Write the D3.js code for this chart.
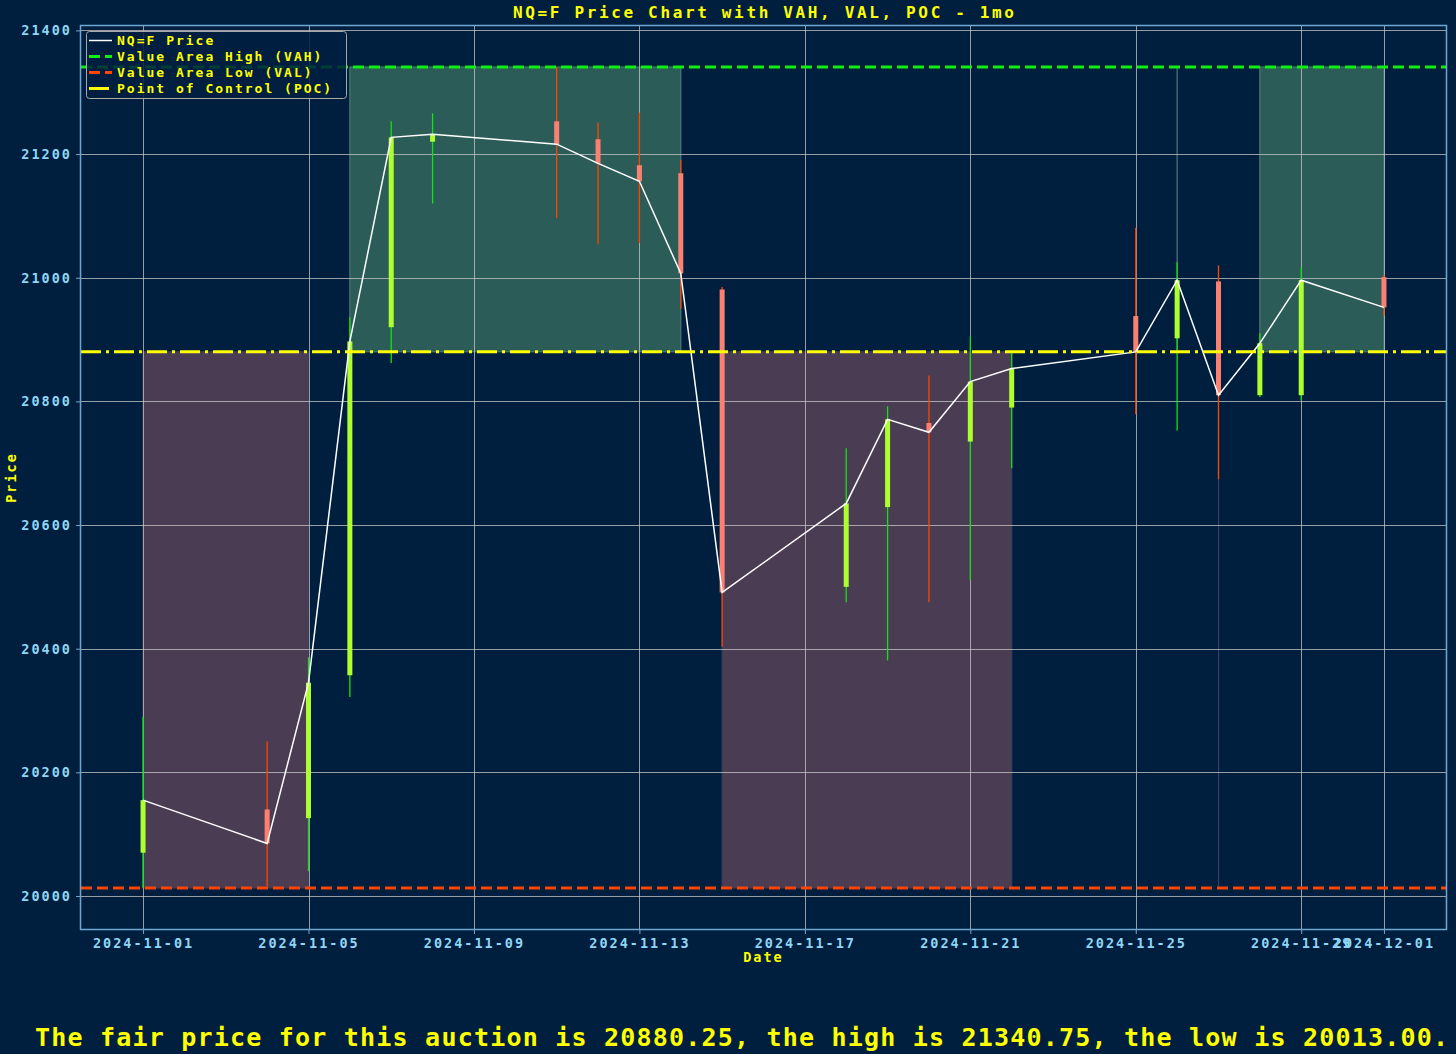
<!DOCTYPE html>
<html><head><meta charset="utf-8">
<script src="https://cdn.jsdelivr.net/npm/d3@7"></script>
<style>
html,body{margin:0;padding:0;background:#001f3f;}
svg{display:block;}
text{font-family:"DejaVu Sans Mono",monospace;font-weight:bold;}
</style></head><body>
<svg id="chart" width="1456" height="1054"></svg>
<script>
const dates = ["2024-11-01","2024-11-04","2024-11-05","2024-11-06","2024-11-07","2024-11-08","2024-11-11","2024-11-12","2024-11-13","2024-11-14","2024-11-15","2024-11-18","2024-11-19","2024-11-20","2024-11-21","2024-11-22","2024-11-25","2024-11-26","2024-11-27","2024-11-28","2024-11-29","2024-12-01"];
const openV  = [20070,20140,20126,20357,20920,21220,21253,21224,21182,21169,20981,20500,20629,20765,20735,20790,20938,20902,20994,20810,20810,21001];
const highV  = [20290,20250,20386,20936,21253,21266,21340.75,21251,21267,21190,20985,20724,20792,20842,20905,20879,21081,21025,21020,20910,21017,21004];
const lowV   = [20013,20016,20040,20322,20862,21120,21096,21054,21056,20950,20403,20475,20381,20475,20511,20692,20779,20753,20674,20807,20802,20939];
const closeV = [20155,20085,20345,20897,21227,21232,21216,21185,21156,21007,20491,20635,20771,20750,20832,20853,20880,20996,20810,20894,20996,20952];

const VAH = 21340.75, VAL = 20013.00, POC = 20880.25;

// shaded regions: "above" = POC..VAH, "below" = VAL..POC
const spanStart = ["2024-11-01","2024-11-06","2024-11-15","2024-11-26","2024-11-27","2024-11-28"];
const spanEnd   = ["2024-11-05","2024-11-14","2024-11-22","2024-11-26","2024-11-27","2024-12-01"];
const spanSide  = ["below","above","below","above","below","above"];

const yTicks = [20000,20200,20400,20600,20800,21000,21200,21400];
const xTickLabels = ["2024-11-01","2024-11-05","2024-11-09","2024-11-13","2024-11-17","2024-11-21","2024-11-25","2024-11-29","2024-12-01"];

const titleText = "NQ=F Price Chart with VAH, VAL, POC - 1mo";
const footerText = "The fair price for this auction is 20880.25, the high is 21340.75, the low is 20013.00.";
const legendLabels = ["NQ=F Price","Value Area High (VAH)","Value Area Low (VAL)","Point of Control (POC)"];

const parse = d3.utcParse("%Y-%m-%d");
const DAY = 86400000;
const svg = d3.select("#chart");
const L = 81, R = 1446, T = 26, B = 929;

const x = d3.scaleUtc()
  .domain([new Date(parse("2024-11-01").getTime() - 1.5*DAY), new Date(parse("2024-12-01").getTime() + 1.5*DAY)])
  .range([L, R]);
const margin = (VAH - VAL) * 0.05;
const y = d3.scaleLinear().domain([VAL - margin, VAH + margin]).range([B, T]);

svg.append("rect").attr("width",1456).attr("height",1054).attr("fill","#001f3f");

// spans
const spans = spanStart.map((s,i)=>({s:parse(s), e:parse(spanEnd[i]), side:spanSide[i]}));
svg.append("g").selectAll("rect").data(spans).join("rect")
  .attr("x", d=>x(d.s))
  .attr("width", d=>Math.max(0.01, x(d.e)-x(d.s)))
  .attr("y", d=> d.side==="above" ? y(VAH) : y(POC))
  .attr("height", d=> d.side==="above" ? y(POC)-y(VAH) : y(VAL)-y(POC))
  .attr("fill", d=> d.side==="above" ? "#2b5c58" : "#4a3c53")
  .attr("stroke", d=> d.side==="above" ? "#4b7a76" : "#3b3e5c")
  .attr("stroke-width", 1.2);

// grid
const grid = svg.append("g").attr("stroke","#c8c8c8").attr("stroke-opacity",0.75).attr("stroke-width",1);
grid.selectAll("line.h").data(yTicks).join("line")
  .attr("x1",L).attr("x2",R).attr("y1",d=>Math.round(y(d))+0.5).attr("y2",d=>Math.round(y(d))+0.5);
grid.selectAll("line.v").data(xTickLabels).join("line")
  .attr("y1",T).attr("y2",B).attr("x1",d=>Math.round(x(parse(d)))+0.5).attr("x2",d=>Math.round(x(parse(d)))+0.5);

// candles
const candles = dates.map((d,i)=>({d:parse(d), o:openV[i], h:highV[i], l:lowV[i], c:closeV[i]}));
const cg = svg.append("g");
cg.selectAll("line").data(candles).join("line")
  .attr("x1",d=>x(d.d)).attr("x2",d=>x(d.d))
  .attr("y1",d=>y(d.h)).attr("y2",d=>y(d.l))
  .attr("stroke",d=>d.c>=d.o ? "#14e014" : "#ff4500")
  .attr("stroke-width",1.3);
cg.selectAll("rect").data(candles).join("rect")
  .attr("x",d=>x(d.d)-2.5).attr("width",5)
  .attr("y",d=>y(Math.max(d.o,d.c)))
  .attr("height",d=>Math.max(1,Math.abs(y(d.o)-y(d.c))))
  .attr("fill",d=>d.c>=d.o ? "#adff2f" : "#fa8072");

// close line
svg.append("path").datum(candles)
  .attr("fill","none").attr("stroke","#ffffff").attr("stroke-width",1.5)
  .attr("d", d3.line().x(d=>x(d.d)).y(d=>y(d.c)));

// reference lines
svg.append("line").attr("x1",L).attr("x2",R).attr("y1",y(VAH)).attr("y2",y(VAH))
  .attr("stroke","#11ee11").attr("stroke-width",3).attr("stroke-dasharray","11,5");
svg.append("line").attr("x1",L).attr("x2",R).attr("y1",y(VAL)).attr("y2",y(VAL))
  .attr("stroke","#ff4500").attr("stroke-width",3).attr("stroke-dasharray","11,5");
svg.append("line").attr("x1",L).attr("x2",R).attr("y1",y(POC)).attr("y2",y(POC))
  .attr("stroke","#ffff00").attr("stroke-width",3).attr("stroke-dasharray","20,5,3,5");

// frame
svg.append("rect").attr("x",L-0.5).attr("y",T-0.5).attr("width",R-L+1).attr("height",B-T+1)
  .attr("fill","none").attr("stroke","#6ea8d2").attr("stroke-width",1.5);

// axes
const yAxis = d3.axisLeft(y).tickValues(yTicks).tickSize(4).tickPadding(4).tickFormat(d3.format("d"));
const ya = svg.append("g").attr("transform",`translate(${L-1},0)`).call(yAxis);
const xAxis = d3.axisBottom(x).tickValues(xTickLabels.map(parse)).tickSize(4).tickPadding(4).tickFormat(d3.utcFormat("%Y-%m-%d"));
const xa = svg.append("g").attr("transform",`translate(0,${B+1})`).call(xAxis);
[ya,xa].forEach(a=>{
  a.select(".domain").remove();
  a.selectAll(".tick line").attr("stroke","#6ea8d2");
  a.selectAll(".tick text").attr("fill","#8fd6f6").attr("font-size",13.5).attr("letter-spacing","2px")
   .attr("font-family","'DejaVu Sans Mono',monospace").attr("font-weight","bold");
});

// labels
svg.append("text").attr("x",(L+R)/2).attr("y",18).attr("text-anchor","middle")
  .attr("fill","#ffff00").attr("font-size",16).attr("textLength",501).attr("lengthAdjust","spacing").text(titleText);
svg.append("text").attr("x",(L+R)/2).attr("y",962).attr("text-anchor","middle")
  .attr("fill","#ffff00").attr("font-size",13.5).attr("letter-spacing","2px").text("Date");
svg.append("text").attr("transform",`translate(16,${(T+B)/2}) rotate(-90)`).attr("text-anchor","middle")
  .attr("fill","#ffff00").attr("font-size",13.5).attr("letter-spacing","2px").text("Price");
svg.append("text").attr("x",35).attr("y",1046).attr("fill","#ffff00").attr("font-size",25)
  .attr("textLength",1413).attr("lengthAdjust","spacing").text(footerText);

// legend
const lg = svg.append("g");
lg.append("rect").attr("x",86.5).attr("y",31.5).attr("width",260).attr("height",67).attr("rx",3)
  .attr("fill","#001f3f").attr("fill-opacity",0.85).attr("stroke","#a8a8a8").attr("stroke-width",1);
const legStyles = [
  {c:"#ffffff", w:1.5, dash:null},
  {c:"#11ee11", w:3, dash:"11,5"},
  {c:"#ff4500", w:3, dash:"11,5"},
  {c:"#ffff00", w:3, dash:"20,5,3,5"}
];
legendLabels.forEach((t,i)=>{
  const cy = 40.5 + i*16;
  const ln = lg.append("line").attr("x1",89).attr("x2",112).attr("y1",cy).attr("y2",cy)
    .attr("stroke",legStyles[i].c).attr("stroke-width",legStyles[i].w);
  if (legStyles[i].dash) ln.attr("stroke-dasharray",legStyles[i].dash);
  lg.append("text").attr("x",117).attr("y",cy+4.5).attr("fill","#ffff00").attr("font-size",13)
    .attr("letter-spacing","2px").text(t);
});
</script>
</body></html>
